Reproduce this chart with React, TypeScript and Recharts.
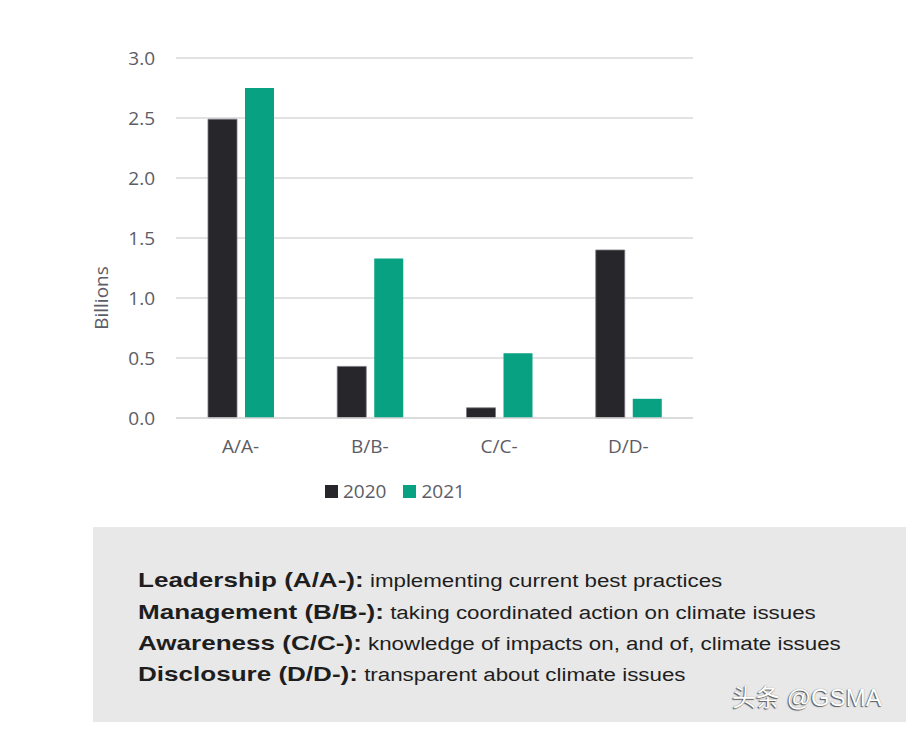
import React from 'react';
import { BarChart, Bar, XAxis, YAxis, CartesianGrid, Legend } from 'recharts';

const categories = ['A/A-', 'B/B-', 'C/C-', 'D/D-'];
const values2020 = [2.49, 0.43, 0.085, 1.40];
const values2021 = [2.75, 1.33, 0.54, 0.16];
const yTicks = [0, 0.5, 1.0, 1.5, 2.0, 2.5, 3.0];
const seriesNames = ['2020', '2021'];
const seriesColors = ['#26262b', '#08a182'];
const yAxisTitle = 'Billions';

const noteTitles = ['Leadership (A/A-):', 'Management (B/B-):', 'Awareness (C/C-):', 'Disclosure (D/D-):'];
const noteTexts = [
  'implementing current best practices',
  'taking coordinated action on climate issues',
  'knowledge of impacts on, and of, climate issues',
  'transparent about climate issues',
];

const data = categories.map((c, i) => ({ name: c, y2020: values2020[i], y2021: values2021[i] }));

const axisColor = '#5c5c66';
const font = '"Open Sans", sans-serif';

const LegendContent = (props: any) => {
  const payload = props.payload || [];
  return (
    <div style={{ display: 'flex', alignItems: 'center', fontFamily: font, fontSize: 19, color: axisColor }}>
      {payload.map((p: any, i: number) => (
        <div key={i} style={{ display: 'flex', alignItems: 'center', marginRight: 17 }}>
          <div style={{ width: 13, height: 13, background: p.color, marginRight: 5 }} />
          <span>{p.value}</span>
        </div>
      ))}
    </div>
  );
};

export default function App() {
  return (
    <div style={{ position: 'absolute', left: 0, top: 0, width: 906, height: 731, background: '#fff', overflow: 'hidden' }}>
      <div style={{ position: 'absolute', left: 0, top: 0 }}>
        <BarChart
          width={720}
          height={520}
          data={data}
          margin={{ top: 58, right: 27, left: 96, bottom: 72 }}
          barSize={29}
          barGap={8}
        >
          <CartesianGrid vertical={false} stroke="#d9d9d9" strokeWidth={1.3} />
          <XAxis
            dataKey="name"
            axisLine={{ stroke: '#d9d9d9', strokeWidth: 1.3 }}
            tickLine={false}
            tickSize={0}
            tickMargin={22}
            height={30}
            tick={{ fill: axisColor, fontSize: 19, fontFamily: font }}
            interval={0}
          />
          <YAxis
            width={80}
            domain={[0, 3]}
            ticks={yTicks}
            tickFormatter={(v: number) => v.toFixed(1)}
            axisLine={false}
            tickLine={false}
            tickSize={0}
            tickMargin={21}
            tick={{ fill: axisColor, fontSize: 19, fontFamily: font }}
          />
          <Legend
            layout="horizontal"
            verticalAlign="middle"
            align="center"
            wrapperStyle={{ position: 'absolute', top: 478, left: 325, width: 'auto' }}
            content={<LegendContent />}
          />
          <Bar dataKey="y2020" name={seriesNames[0]} fill={seriesColors[0]} stroke="#77777d" strokeWidth={0.8} isAnimationActive={false} />
          <Bar dataKey="y2021" name={seriesNames[1]} fill={seriesColors[1]} isAnimationActive={false} />
        </BarChart>
      </div>
      <div
        style={{
          position: 'absolute',
          left: 101,
          top: 298,
          transform: 'translate(-50%, -50%) rotate(-90deg)',
          fontFamily: font,
          fontSize: 19,
          lineHeight: '24px',
          color: axisColor,
          whiteSpace: 'nowrap',
        }}
      >
        {yAxisTitle}
      </div>
      <div style={{ position: 'absolute', left: 93, top: 527, width: 813, height: 195, background: '#e8e8e8' }} />
      <div style={{ position: 'absolute', left: 138, top: 564.4, fontFamily: '"Liberation Sans", Arial, sans-serif', color: '#1e1e1e' }}>
        {noteTitles.map((t, i) => (
          <div
            key={i}
            style={{
              height: 31.3,
              lineHeight: '31.3px',
              fontSize: 21,
              whiteSpace: 'nowrap',
              transform: 'scaleX(1.24)',
              transformOrigin: 'left center',
            }}
          >
            <span style={{ fontWeight: 'bold' }}>{t}</span>
            <span style={{ fontSize: 18 }}> {noteTexts[i]}</span>
          </div>
        ))}
      </div>
      <div
        style={{
          position: 'absolute',
          left: 732,
          top: 684,
          fontFamily: '"Liberation Sans", "Noto Sans CJK SC", sans-serif',
          fontSize: 24,
          lineHeight: '28px',
          color: '#ffffff',
          whiteSpace: 'nowrap',
          textShadow: '-1px 1px 1px #555, 0 0 1px #777',
        }}
      >
        头条 @GSMA
      </div>
    </div>
  );
}
